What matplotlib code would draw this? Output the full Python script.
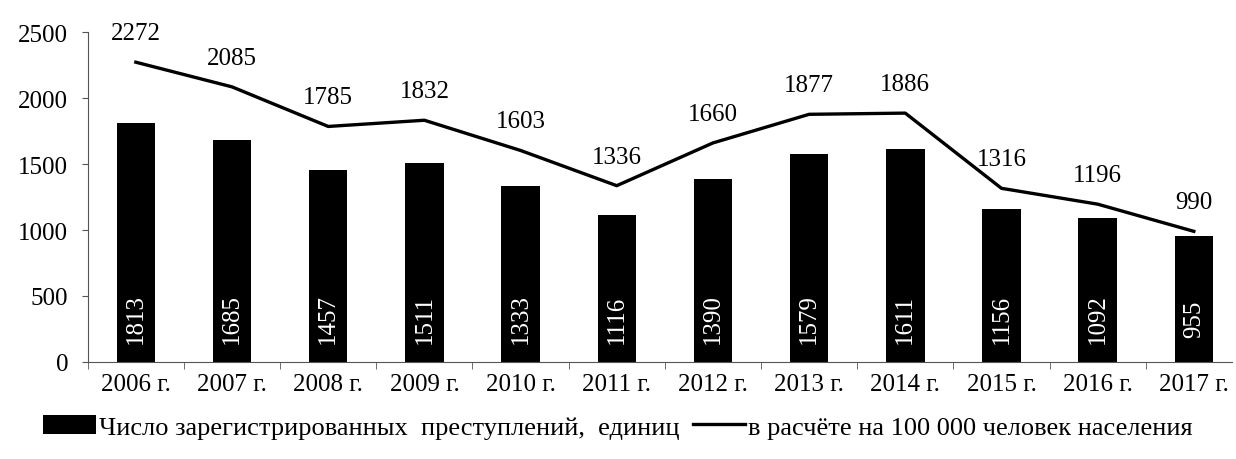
import numpy as np
import matplotlib.pyplot as plt

plt.rcParams['font.family'] = ['Liberation Serif', 'DejaVu Serif']

# данные
years = ['2006 г.', '2007 г.', '2008 г.', '2009 г.', '2010 г.', '2011 г.',
         '2012 г.', '2013 г.', '2014 г.', '2015 г.', '2016 г.', '2017 г.']
crimes = [1813, 1685, 1457, 1511, 1333, 1116, 1390, 1579, 1611, 1156, 1092, 955]
per_100k = [2272, 2085, 1785, 1832, 1603, 1336, 1660, 1877, 1886, 1316, 1196, 990]

fig = plt.figure(figsize=(12.36, 4.6), dpi=100)
ax = fig.add_axes([0.071, 0.211, 0.926, 0.717])

x = np.arange(len(years))
bars = ax.bar(x, crimes, width=0.4, color='black',
              label='Число зарегистрированных  преступлений,  единиц')
line, = ax.plot(x, per_100k, color='black', lw=2.4,
                label='в расчёте на 100 000 человек населения')

# подписи на столбцах
for xi, v in zip(x, crimes):
    ax.text(xi, 330, str(v), rotation=90, color='white', ha='center', va='center',
            fontsize=18)

# подписи над линией
for xi, v in zip(x, per_100k):
    ax.annotate(str(v), (xi, v), xytext=(0, 21), textcoords='offset points',
                ha='center', va='center', fontsize=18)

ax.set_xlim(-0.5, 11.4)
ax.set_ylim(0, 2500)
ax.set_yticks([0, 500, 1000, 1500, 2000, 2500])
ax.set_xticks(x)
ax.set_xticklabels(years, fontsize=18)
ax.tick_params(axis='y', labelsize=18, length=4, color='#555555', pad=10)
ax.tick_params(axis='x', length=0, pad=8)
ax.set_xticks(np.arange(-0.5, 11.5, 1), minor=True)
ax.tick_params(axis='x', which='minor', length=5, color='#555555')

for s in ['top', 'right']:
    ax.spines[s].set_visible(False)
for s in ['left', 'bottom']:
    ax.spines[s].set_color('#555555')

fig.legend(handles=[bars, line], loc='center', bbox_to_anchor=(0.5, 0.07),
           ncol=2, frameon=False, fontsize=19, handlelength=2.0,
           handletextpad=0.1, columnspacing=0.5)

fig.savefig('out.png', dpi=100)
